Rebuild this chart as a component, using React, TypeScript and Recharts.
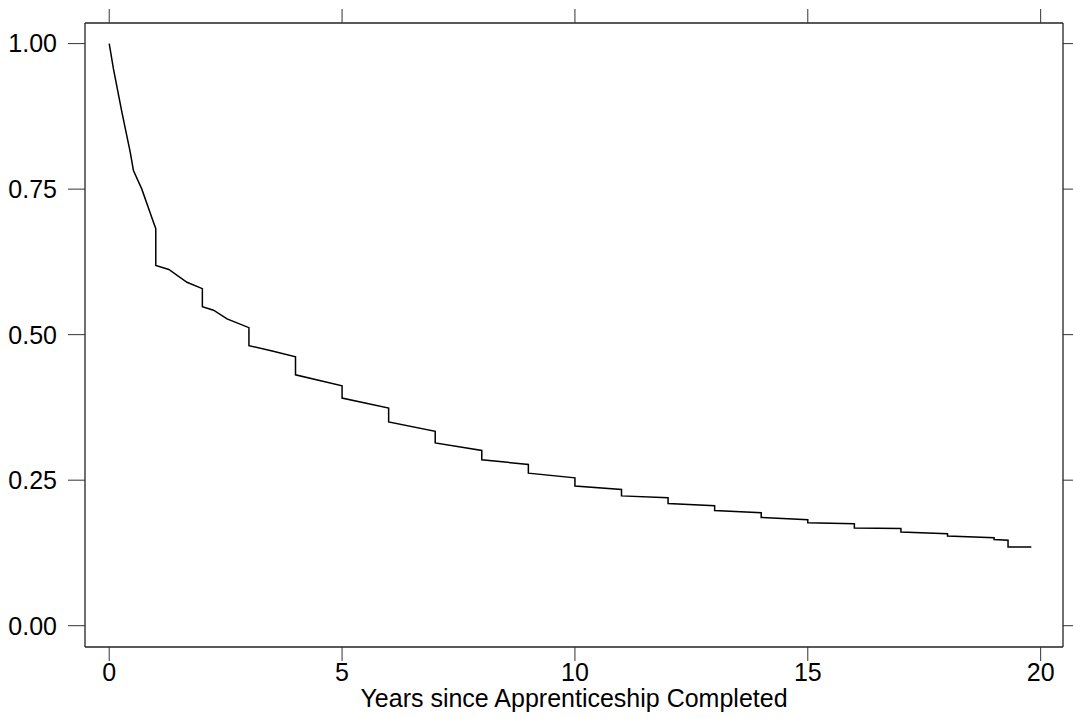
import { LineChart, Line, XAxis, YAxis } from 'recharts';

// Kaplan-Meier style survival curve.
// Repeated years mark the vertical drops at each anniversary.
const years = [
  0, 0.09, 0.27, 0.45, 0.52, 0.7, 0.92, 1, 1,
  1.28, 1.67, 2, 2,
  2.24, 2.53, 3, 3,
  3.5, 4, 4,
  5, 5,
  6, 6,
  7, 7,
  8, 8,
  9, 9,
  10, 10,
  11, 11,
  12, 12,
  13, 13,
  14, 14,
  15, 15,
  16, 16,
  17, 17,
  18, 18,
  19, 19,
  19.3, 19.3, 19.8,
];

const survival = [
  1.0, 0.957, 0.883, 0.814, 0.782, 0.75, 0.7, 0.682, 0.619,
  0.612, 0.59, 0.579, 0.548,
  0.542, 0.527, 0.512, 0.481,
  0.472, 0.462, 0.431,
  0.412, 0.391,
  0.374, 0.35,
  0.334, 0.314,
  0.301, 0.285,
  0.277, 0.262,
  0.254, 0.24,
  0.234, 0.223,
  0.22, 0.21,
  0.206, 0.198,
  0.194, 0.186,
  0.182, 0.177,
  0.175, 0.168,
  0.167, 0.161,
  0.158, 0.154,
  0.151, 0.148,
  0.147, 0.135, 0.135,
];

const xTicks = [0, 5, 10, 15, 20];
const yTicks = [0, 0.25, 0.5, 0.75, 1];

const data = years.map((t, i) => ({ t, s: survival[i] }));

const font = { fontFamily: '"Liberation Sans", Arial, sans-serif', fontSize: 25, fill: '#000' };
const axisLine = { stroke: '#222', strokeWidth: 1.3 };
const tickLine = { stroke: '#333', strokeWidth: 1 };

// tick marks only, no labels (top and right axes)
const noLabel = () => <g />;

export default function App() {
  return (
    <div style={{ position: 'absolute', left: 0, top: 0, width: 1073, height: 719, background: '#fff' }}>
      <LineChart width={1073} height={719} data={data} margin={{ top: 0, right: 0, bottom: 0, left: 0 }}>
        <XAxis
          xAxisId="bottom"
          dataKey="t"
          type="number"
          domain={[-0.52, 20.48]}
          ticks={xTicks}
          allowDataOverflow
          height={72}
          tickSize={14}
          tickMargin={2}
          tick={font}
          axisLine={axisLine}
          tickLine={tickLine}
          label={{ value: 'Years since Apprenticeship Completed', position: 'insideBottom', offset: 12, style: font }}
        />
        <XAxis
          xAxisId="top"
          orientation="top"
          dataKey="t"
          type="number"
          domain={[-0.52, 20.48]}
          ticks={xTicks}
          allowDataOverflow
          height={23}
          tickSize={14}
          tick={noLabel}
          axisLine={axisLine}
          tickLine={tickLine}
        />
        <YAxis
          yAxisId="left"
          type="number"
          domain={[-0.0366, 1.0354]}
          ticks={yTicks}
          allowDataOverflow
          width={85}
          tickSize={17}
          tickMargin={11}
          tick={font}
          tickFormatter={(v: number) => v.toFixed(2)}
          axisLine={axisLine}
          tickLine={tickLine}
        />
        <YAxis
          yAxisId="right"
          orientation="right"
          type="number"
          domain={[-0.0366, 1.0354]}
          ticks={yTicks}
          allowDataOverflow
          width={10}
          tickSize={10}
          tick={noLabel}
          axisLine={axisLine}
          tickLine={tickLine}
        />
        <Line
          xAxisId="bottom"
          yAxisId="left"
          type="linear"
          dataKey="s"
          stroke="#000"
          strokeWidth={1.5}
          dot={false}
          isAnimationActive={false}
        />
      </LineChart>
    </div>
  );
}
